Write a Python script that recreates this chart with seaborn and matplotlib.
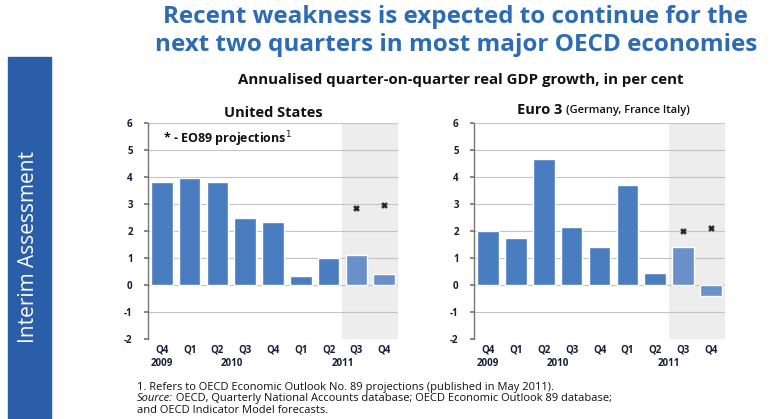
import pandas as pd
import matplotlib.pyplot as plt
import seaborn as sns
from matplotlib.patches import Rectangle

# Data
periods = ['2009Q4', '2010Q1', '2010Q2', '2010Q3', '2010Q4',
           '2011Q1', '2011Q2', '2011Q3', '2011Q4']
quarter_labels = ['Q4', 'Q1', 'Q2', 'Q3', 'Q4', 'Q1', 'Q2', 'Q3', 'Q4']
year_labels = ['2009', '2010', '2011']
us_growth = [3.8, 3.95, 3.8, 2.5, 2.35, 0.35, 1.0, 1.1, 0.4]
euro3_growth = [2.0, 1.75, 4.65, 2.15, 1.4, 3.7, 0.45, 1.4, -0.4]
projected = [False] * 7 + [True] * 2
us_eo89 = [2.85, 2.95]
euro3_eo89 = [2.0, 2.1]

sns.set_theme(style='white')
plt.rcParams['font.family'] = ['Open Sans', 'DejaVu Sans']
plt.rcParams['axes.unicode_minus'] = False

bar_actual = '#4a7cc0'
bar_proj = '#6990c8'
title_blue = '#2e6bb5'
dark = '#1a1a3a'

fig = plt.figure(figsize=(7.73, 4.19), dpi=100)

# Left band with vertical label
fig.patches.append(Rectangle((8 / 773, 0), 43 / 773, 362 / 419,
                             transform=fig.transFigure, color='#2a5ea8', zorder=0))
fig.text(29 / 773, 1 - 247 / 419, 'Interim Assessment', rotation=90, color='white',
         fontsize=15, ha='center', va='center')

fig.text(455 / 773, 1 - 17 / 419, 'Recent weakness is expected to continue for the',
         ha='center', va='center', fontsize=17.5, fontweight='bold', color=title_blue)
fig.text(456 / 773, 1 - 45 / 419, 'next two quarters in most major OECD economies',
         ha='center', va='center', fontsize=17.5, fontweight='bold', color=title_blue)
fig.text(461 / 773, 1 - 80 / 419,
         'Annualised quarter-on-quarter real GDP growth, in per cent',
         ha='center', va='center', fontsize=10.8, fontweight='bold', color='#111111')


def draw_panel(ax, values, eo89):
    df = pd.DataFrame({'period': periods, 'growth': values,
                       'kind': ['proj' if p else 'actual' for p in projected]})
    ax.axvspan(6.5, 8.5, color='#ededed', zorder=0, lw=0)
    sns.barplot(data=df, x='period', y='growth', hue='kind', dodge=False,
                palette={'actual': bar_actual, 'proj': bar_proj}, saturation=1,
                width=0.78, legend=False, ax=ax, zorder=2)
    sns.scatterplot(x=[7, 8], y=eo89, marker='X', s=18, color='#222222',
                    edgecolor='#222222', ax=ax, zorder=3)
    ax.set_xlim(-0.5, 8.5)
    ax.set_ylim(-2, 6)
    ax.set_yticks(range(-2, 7))
    ax.yaxis.grid(True, color='#c4c4c4', lw=0.8, zorder=1)
    ax.set_axisbelow(True)
    for s in ['top', 'right', 'bottom']:
        ax.spines[s].set_visible(False)
    ax.spines['left'].set_color('#777777')
    ax.spines['left'].set_linewidth(1.0)
    ax.tick_params(axis='y', left=True, length=3, color='#777777', labelsize=7,
                   pad=8)
    ax.tick_params(axis='x', bottom=False, length=0, labelsize=7, pad=4)
    ax.set_xticks(range(9))
    ax.set_xticklabels(quarter_labels, fontweight='bold', color=dark)
    for t in ax.get_yticklabels():
        t.set_fontweight('bold')
        t.set_color(dark)
    ax.set_xlabel('')
    ax.set_ylabel('')
    for pos, yr in zip([0, 2.5, 6.5], year_labels):
        ax.text(pos, -0.113, yr, transform=ax.get_xaxis_transform(), ha='center',
                va='center', fontsize=7, fontweight='bold', color=dark)


ax1 = fig.add_axes([148 / 773, 1 - 339 / 419, 250 / 773, 216 / 419])
ax2 = fig.add_axes([474 / 773, 1 - 339 / 419, 251 / 773, 216 / 419])
draw_panel(ax1, us_growth, us_eo89)
draw_panel(ax2, euro3_growth, euro3_eo89)

ax1.set_title('United States', fontsize=10.5, fontweight='bold', color='#111111', pad=4)
fig.text(562 / 773, 1 - 110 / 419, 'Euro 3', ha='right', va='center',
         fontsize=10.5, fontweight='bold', color='#111111')
fig.text(566 / 773, 1 - 110 / 419, '(Germany, France Italy)', ha='left', va='center',
         fontsize=8, fontweight='semibold', color='#111111')
ax1.text(0.06, 0.925, '* - EO89 projections$^{1}$', transform=ax1.transAxes,
         fontsize=9, fontweight='bold', color='#111111', va='center')

# Footnotes
fig.text(137 / 773, 1 - 387 / 419,
         '1. Refers to OECD Economic Outlook No. 89 projections (published in May 2011).',
         fontsize=8, va='center', color='#111111')
src = fig.text(137 / 773, 1 - 398 / 419, 'Source:', fontsize=8, va='center',
               style='italic', color='#111111')
fig.add_artist(plt.Annotation(
    ' OECD, Quarterly National Accounts database; OECD Economic Outlook 89 database;',
    xy=(1, 0.5), xycoords=src, va='center', ha='left', fontsize=8, color='#111111'))
fig.text(137 / 773, 1 - 410 / 419, 'and OECD Indicator Model forecasts.',
         fontsize=8, va='center', color='#111111')

fig.savefig('out.png', dpi=100)
